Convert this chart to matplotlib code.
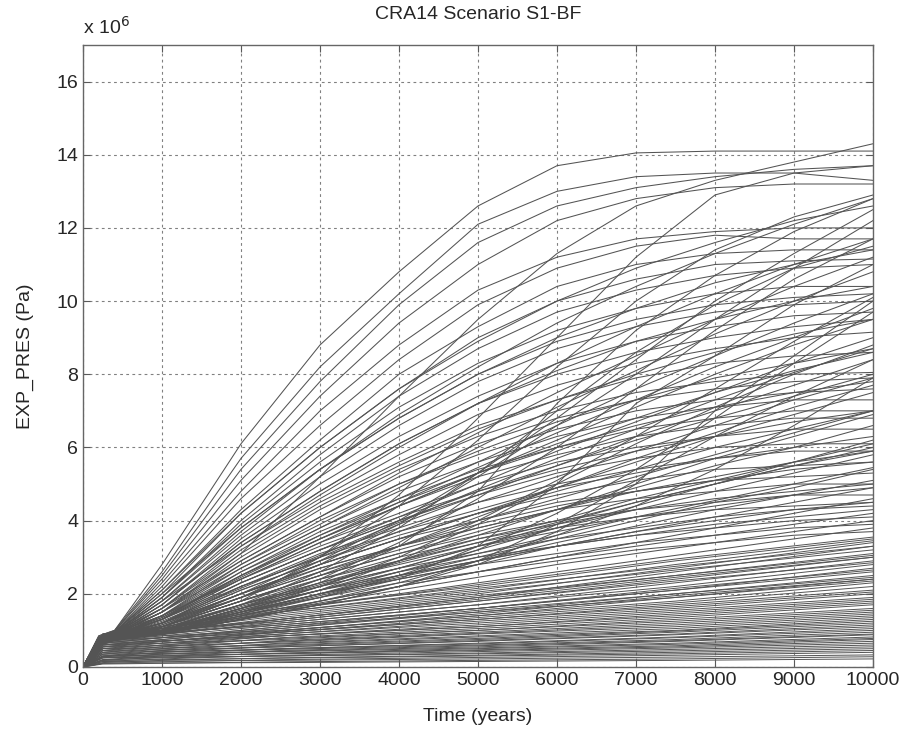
import matplotlib
matplotlib.use("Agg")
import matplotlib.pyplot as plt
import numpy as np

plt.rcParams['font.family'] = ['Liberation Sans', 'DejaVu Sans']

# pressure values in units of 1e6 Pa
t_fan = [0, 200, 400, 1000, 2000, 3000, 4000, 5000, 6000, 7000, 8000, 9000, 10000]

fan_early = [
    [0, .85, 1.0, 2.8, 6.1, 8.8, 10.8, 12.6, 13.7, 14.05, 14.1, 14.1, 14.1],
    [0, .85, 1.0, 2.6, 5.7, 8.2, 10.2, 12.1, 13.0, 13.4, 13.5, 13.5, 13.3],
    [0, .8, .98, 2.5, 5.4, 7.8, 9.9, 11.6, 12.6, 13.1, 13.4, 13.6, 13.7],
    [0, .8, .98, 2.4, 5.1, 7.4, 9.4, 11.0, 12.2, 12.8, 13.1, 13.2, 13.2],
    [0, .8, .95, 2.3, 4.8, 7.0, 8.8, 10.3, 11.2, 11.7, 11.9, 12.0, 12.0],
    [0, .8, .95, 2.2, 4.6, 6.6, 8.4, 9.9, 10.9, 11.5, 11.8, 11.7, 11.7],
    [0, .78, .95, 2.1, 4.3, 6.2, 8.0, 9.3, 10.4, 11.0, 11.3, 11.4, 11.4],
    [0, .78, .93, 2.0, 4.2, 6.0, 7.6, 9.0, 10.0, 10.6, 11.0, 11.1, 11.15],
    [0, .76, .93, 1.9, 4.0, 5.8, 7.4, 8.7, 9.7, 10.3, 10.7, 10.9, 11.0],
    [0, .76, .92, 1.9, 3.9, 5.6, 7.1, 8.3, 9.2, 9.8, 10.2, 10.4, 10.4],
    [0, .75, .92, 1.8, 3.7, 5.4, 6.8, 8.0, 8.9, 9.5, 9.9, 10.1, 10.2],
    [0, .75, .9, 1.8, 3.6, 5.2, 6.6, 7.8, 8.7, 9.3, 9.7, 9.9, 10.0],
    [0, .74, .9, 1.7, 3.5, 5.0, 6.3, 7.4, 8.3, 8.9, 9.3, 9.6, 9.7],
    [0, .74, .9, 1.7, 3.4, 4.8, 6.1, 7.2, 8.0, 8.6, 9.0, 9.3, 9.5],
    [0, .72, .88, 1.6, 3.3, 4.6, 5.8, 6.9, 7.7, 8.3, 8.7, 9.0, 9.15],
    [0, .72, .88, 1.6, 3.2, 4.5, 5.6, 6.6, 7.3, 7.9, 8.3, 8.5, 8.6],
    [0, .7, .86, 1.5, 3.0, 4.3, 5.4, 6.3, 7.0, 7.5, 7.8, 8.0, 8.05],
    [0, .7, .86, 1.5, 2.9, 4.1, 5.2, 6.1, 6.8, 7.3, 7.6, 7.8, 7.9],
    [0, .7, .85, 1.4, 2.8, 3.9, 5.0, 5.8, 6.5, 7.0, 7.3, 7.5, 7.6],
    [0, .68, .85, 1.4, 2.7, 3.8, 4.8, 5.6, 6.3, 6.8, 7.1, 7.3, 7.3],
    [0, .68, .84, 1.3, 2.6, 3.7, 4.6, 5.4, 6.0, 6.5, 6.8, 7.0, 7.0],
    [0, .66, .84, 1.3, 2.5, 3.5, 4.4, 5.2, 5.8, 6.3, 6.6, 6.8, 6.8],
    [0, .66, .82, 1.3, 2.4, 3.4, 4.2, 5.0, 5.6, 6.0, 6.3, 6.5, 6.5],
    [0, .65, .82, 1.2, 2.3, 3.2, 4.0, 4.7, 5.3, 5.7, 6.0, 6.1, 6.1],
    [0, .65, .8, 1.2, 2.2, 3.1, 3.8, 4.5, 5.0, 5.4, 5.7, 5.9, 5.9],
    [0, .64, .8, 1.2, 2.1, 2.9, 3.6, 4.2, 4.7, 5.1, 5.4, 5.5, 5.6],
    [0, .64, .78, 1.1, 2.0, 2.8, 3.5, 4.0, 4.5, 4.8, 5.1, 5.2, 5.3],
    [0, .62, .78, 1.1, 1.9, 2.7, 3.3, 3.8, 4.3, 4.6, 4.8, 5.0, 5.0],
    [0, .62, .76, 1.1, 1.8, 2.5, 3.1, 3.6, 4.0, 4.3, 4.5, 4.7, 4.7],
    [0, .6, .76, 1.0, 1.7, 2.4, 2.9, 3.4, 3.8, 4.1, 4.3, 4.4, 4.5],
]

fan_mid = [
    [0, .8, .96, 2.1, 4.2, 6.0, 7.6, 8.9, 10.0, 10.9, 11.6, 12.2, 12.6],
    [0, .78, .94, 1.9, 3.8, 5.4, 6.8, 8.0, 9.0, 9.8, 10.5, 11.0, 11.4],
    [0, .76, .92, 1.7, 3.4, 4.8, 6.1, 7.2, 8.1, 8.9, 9.5, 10.0, 10.4],
    [0, .74, .9, 1.6, 3.1, 4.4, 5.5, 6.5, 7.3, 8.0, 8.6, 9.1, 9.5],
    [0, .72, .88, 1.5, 2.8, 4.0, 5.0, 5.9, 6.7, 7.3, 7.9, 8.3, 8.7],
    [0, .7, .86, 1.4, 2.6, 3.6, 4.5, 5.3, 6.0, 6.6, 7.1, 7.5, 7.8],
    [0, .68, .84, 1.3, 2.4, 3.3, 4.1, 4.8, 5.4, 5.9, 6.3, 6.7, 7.0],
    [0, .66, .82, 1.2, 2.2, 3.0, 3.7, 4.3, 4.9, 5.3, 5.7, 6.0, 6.3],
    [0, .64, .8, 1.15, 2.0, 2.7, 3.3, 3.9, 4.4, 4.8, 5.1, 5.4, 5.6],
    [0, .62, .78, 1.1, 1.8, 2.4, 3.0, 3.5, 3.9, 4.3, 4.6, 4.8, 5.0],
    [0, .6, .76, 1.05, 1.7, 2.2, 2.7, 3.1, 3.5, 3.8, 4.1, 4.3, 4.5],
    [0, .6, .74, 1.0, 1.6, 2.1, 2.5, 2.9, 3.3, 3.6, 3.9, 4.1, 4.3],
]

fan_linear = [
    [0, .82, .97, 2.0, 3.8, 5.4, 6.9, 8.2, 9.4, 10.4, 11.3, 12.1, 12.8],
    [0, .8, .96, 1.8, 3.3, 4.7, 6.0, 7.2, 8.3, 9.3, 10.2, 11.0, 11.7],
    [0, .8, .95, 1.6, 2.9, 4.1, 5.3, 6.4, 7.5, 8.5, 9.5, 10.4, 11.2],
    [0, .78, .94, 1.5, 2.7, 3.8, 4.9, 6.0, 7.1, 8.1, 9.1, 10.0, 10.8],
    [0, .78, .93, 1.4, 2.5, 3.6, 4.6, 5.6, 6.6, 7.6, 8.5, 9.4, 10.2],
    [0, .76, .92, 1.4, 2.4, 3.4, 4.4, 5.3, 6.2, 7.1, 8.0, 8.8, 9.5],
    [0, .76, .9, 1.3, 2.3, 3.2, 4.1, 5.0, 5.9, 6.7, 7.5, 8.3, 9.0],
    [0, .74, .9, 1.3, 2.2, 3.0, 3.9, 4.7, 5.5, 6.3, 7.0, 7.7, 8.4],
    [0, .74, .88, 1.2, 2.1, 2.9, 3.7, 4.5, 5.2, 5.9, 6.6, 7.3, 7.9],
    [0, .72, .87, 1.2, 2.0, 2.8, 3.5, 4.2, 4.9, 5.6, 6.3, 6.9, 7.5],
    [0, .72, .86, 1.1, 1.9, 2.6, 3.3, 4.0, 4.6, 5.2, 5.8, 6.4, 7.0],
    [0, .7, .85, 1.1, 1.8, 2.5, 3.1, 3.7, 4.3, 4.9, 5.5, 6.0, 6.6],
    [0, .7, .84, 1.1, 1.7, 2.3, 2.9, 3.5, 4.0, 4.6, 5.1, 5.6, 6.1],
    [0, .68, .83, 1.0, 1.6, 2.2, 2.7, 3.3, 3.8, 4.3, 4.8, 5.3, 5.8],
    [0, .68, .82, 1.0, 1.5, 2.0, 2.5, 3.0, 3.5, 4.0, 4.5, 4.9, 5.4],
    [0, .66, .8, 1.0, 1.5, 1.9, 2.4, 2.8, 3.3, 3.7, 4.1, 4.5, 4.9],
    [0, .66, .78, .9, 1.4, 1.8, 2.2, 2.6, 3.0, 3.4, 3.8, 4.2, 4.6],
    [0, .65, .78, .95, 1.45, 1.95, 2.45, 2.9, 3.4, 3.85, 4.3, 4.7, 5.1],
    [0, .7, .85, 1.25, 2.15, 3.05, 3.95, 4.85, 5.7, 6.5, 7.3, 8.05, 8.7],
    [0, .72, .88, 1.35, 2.45, 3.5, 4.5, 5.45, 6.4, 7.3, 8.2, 9.0, 9.8],
    [0, .66, .8, 1.05, 1.65, 2.25, 2.85, 3.4, 3.95, 4.5, 5.0, 5.5, 6.0],
    [0, .64, .78, 1.0, 1.55, 2.1, 2.6, 3.1, 3.6, 4.1, 4.55, 5.0, 5.45],
]

fan_low = [
    [0, .62, .76, 1.0, 1.6, 2.1, 2.6, 3.0, 3.3, 3.6, 3.8, 4.0, 4.1],
    [0, .6, .75, .98, 1.5, 2.0, 2.4, 2.8, 3.1, 3.4, 3.6, 3.8, 3.9],
    [0, .6, .74, .95, 1.45, 1.9, 2.3, 2.6, 2.9, 3.2, 3.4, 3.6, 3.7],
    [0, .62, .76, .95, 1.4, 1.8, 2.2, 2.6, 3.0, 3.3, 3.6, 3.9, 4.2],
    [0, .64, .78, 1.0, 1.5, 2.0, 2.5, 2.9, 3.3, 3.7, 4.0, 4.3, 4.4],
    [0, .6, .74, .92, 1.35, 1.75, 2.1, 2.45, 2.8, 3.1, 3.4, 3.7, 4.0],
    [0, .58, .72, .9, 1.3, 1.7, 2.0, 2.3, 2.6, 2.9, 3.2, 3.5, 3.8],
    [0, .66, .8, 1.05, 1.7, 2.3, 2.8, 3.3, 3.7, 4.1, 4.4, 4.7, 4.9],
    [0, .68, .82, 1.15, 1.9, 2.6, 3.2, 3.8, 4.3, 4.8, 5.2, 5.6, 5.9],
    [0, .7, .84, 1.2, 2.0, 2.8, 3.5, 4.2, 4.8, 5.4, 6.0, 6.5, 7.0],
    [0, .72, .86, 1.3, 2.3, 3.2, 4.0, 4.8, 5.5, 6.2, 6.8, 7.4, 8.0],
    [0, .74, .88, 1.35, 2.5, 3.5, 4.4, 5.3, 6.1, 6.8, 7.5, 8.1, 8.6],
    [0, .66, .8, 1.0, 1.6, 2.2, 2.9, 3.6, 4.3, 5.0, 5.7, 6.3, 6.9],
    [0, .64, .78, .95, 1.45, 2.0, 2.6, 3.2, 3.8, 4.4, 5.0, 5.6, 6.2],
    [0, .66, .8, 1.0, 1.55, 2.1, 2.7, 3.3, 3.9, 4.5, 5.0, 5.5, 5.9],
    [0, .7, .84, 1.1, 1.8, 2.5, 3.3, 4.1, 4.9, 5.7, 6.4, 7.1, 7.7],
]

fan_late = [
    [0, .75, .9, 1.5, 3.1, 5.2, 7.4, 9.5, 11.3, 12.6, 13.3, 13.8, 14.3],
    [0, .7, .85, 1.1, 1.8, 3.0, 4.7, 6.8, 9.0, 11.2, 12.9, 13.5, 13.7],
    [0, .68, .82, 1.0, 1.6, 2.3, 3.3, 4.8, 7.2, 9.2, 10.7, 11.9, 12.8],
    [0, .68, .82, 1.0, 1.5, 2.0, 2.4, 3.3, 5.0, 7.2, 8.5, 9.9, 11.0],
    [0, .65, .8, .9, 1.3, 1.7, 2.2, 2.8, 3.7, 5.0, 7.0, 8.5, 10.0],
    [0, .7, .85, 1.2, 1.9, 2.8, 3.9, 5.2, 6.6, 8.0, 9.5, 10.9, 12.2],
    [0, .7, .85, 1.2, 2.0, 3.0, 4.4, 6.2, 8.2, 10.0, 11.4, 12.3, 12.9],
    [0, .68, .82, 1.0, 1.6, 2.4, 3.4, 4.6, 6.0, 7.6, 9.2, 10.6, 11.7],
    [0, .7, .84, 1.1, 1.9, 2.9, 4.0, 5.3, 6.8, 8.4, 10.0, 11.3, 12.5],
    [0, .65, .8, .9, 1.4, 1.9, 2.5, 3.2, 4.2, 5.4, 6.8, 8.3, 9.7],
    [0, .68, .82, 1.0, 1.7, 2.6, 3.8, 5.3, 7.0, 8.6, 9.9, 10.9, 11.5],
    [0, .66, .8, .9, 1.5, 2.2, 3.0, 4.0, 5.1, 6.3, 7.6, 8.9, 10.1],
    [0, .64, .78, .9, 1.3, 1.8, 2.3, 2.9, 3.6, 4.4, 5.4, 6.6, 7.9],
    [0, .64, .78, .9, 1.3, 1.7, 2.2, 2.9, 3.9, 5.1, 6.3, 7.4, 8.4],
    [0, .66, .8, 1.0, 1.5, 2.1, 2.9, 3.9, 5.0, 6.1, 7.1, 8.0, 8.8],
]

# slow vectors in the dense band near the bottom
t_low = [0, 250, 1000, 2500, 5000, 7500, 10000]
low_band = [
    [0, .9, 1.1, 1.6, 2.2, 2.9, 3.5],
    [0, .85, 1.05, 1.55, 2.25, 2.95, 3.55],
    [0, .88, 1.05, 1.5, 2.1, 2.8, 3.45],
    [0, .9, 1.0, 1.4, 2.0, 2.7, 3.4],
    [0, .85, 1.0, 1.3, 1.9, 2.6, 3.3],
    [0, .8, 1.0, 1.5, 2.15, 2.75, 3.3],
    [0, .82, 1.0, 1.45, 2.05, 2.65, 3.2],
    [0, .8, .95, 1.3, 1.9, 2.5, 3.1],
    [0, .78, .95, 1.35, 1.95, 2.5, 3.05],
    [0, .9, 1.0, 1.25, 1.8, 2.4, 3.0],
    [0, .75, .9, 1.3, 1.85, 2.45, 3.0],
    [0, .75, .9, 1.2, 1.7, 2.3, 2.9],
    [0, .7, .88, 1.25, 1.8, 2.35, 2.85],
    [0, .8, .9, 1.2, 1.7, 2.2, 2.8],
    [0, .7, .85, 1.15, 1.6, 2.1, 2.7],
    [0, .65, .8, 1.1, 1.6, 2.15, 2.65],
    [0, .85, .95, 1.15, 1.6, 2.1, 2.6],
    [0, .65, .8, 1.1, 1.5, 2.0, 2.5],
    [0, .6, .75, 1.05, 1.55, 2.0, 2.45],
    [0, .7, .8, 1.05, 1.5, 1.9, 2.4],
    [0, .55, .7, .98, 1.45, 1.95, 2.4],
    [0, .6, .75, 1.0, 1.4, 1.9, 2.35],
    [0, .8, .85, 1.0, 1.4, 1.8, 2.3],
    [0, .55, .7, .95, 1.35, 1.75, 2.2],
    [0, .6, .7, .95, 1.3, 1.7, 2.1],
    [0, .75, .8, .95, 1.3, 1.65, 2.05],
    [0, .5, .65, .9, 1.25, 1.6, 2.0],
    [0, .65, .7, .9, 1.2, 1.55, 1.9],
    [0, .45, .6, .85, 1.15, 1.5, 1.85],
    [0, .55, .65, .85, 1.1, 1.45, 1.8],
    [0, .7, .72, .85, 1.1, 1.4, 1.75],
    [0, .4, .55, .8, 1.05, 1.35, 1.7],
    [0, .5, .6, .78, 1.0, 1.3, 1.6],
    [0, .6, .65, .75, 1.0, 1.25, 1.55],
    [0, .35, .5, .72, .95, 1.2, 1.5],
    [0, .45, .55, .7, .92, 1.15, 1.45],
    [0, .55, .58, .68, .9, 1.1, 1.4],
    [0, .3, .45, .65, .85, 1.05, 1.35],
    [0, .4, .5, .63, .82, 1.0, 1.3],
    [0, .5, .52, .6, .78, .98, 1.25],
    [0, .28, .4, .58, .75, .95, 1.2],
    [0, .35, .45, .55, .72, .9, 1.15],
    [0, .45, .47, .55, .7, .88, 1.1],
    [0, .25, .35, .5, .65, .82, 1.05],
    [0, .3, .4, .5, .63, .8, 1.0],
    [0, .4, .42, .48, .6, .75, .95],
    [0, .2, .3, .45, .58, .72, .9],
    [0, .28, .35, .43, .55, .7, .88],
    [0, .35, .37, .42, .52, .65, .82],
    [0, .18, .27, .38, .5, .62, .78],
    [0, .25, .3, .37, .47, .58, .75],
    [0, .3, .32, .36, .45, .55, .7],
    [0, .15, .22, .32, .42, .52, .65],
    [0, .2, .25, .3, .38, .48, .6],
    [0, .25, .27, .3, .36, .44, .55],
    [0, .12, .18, .25, .32, .4, .5],
    [0, .18, .2, .24, .3, .36, .45],
    [0, .1, .14, .2, .26, .32, .4],
    [0, .15, .16, .18, .22, .27, .33],
    [0, .08, .1, .14, .18, .22, .28],
    [0, .1, .11, .12, .15, .18, .22],
]

line_col = '0.33'
text_col = '0.15'

fig = plt.figure(figsize=(9.09, 7.36), dpi=100)
ax = fig.add_axes([0.0913, 0.0938, 0.8691, 0.8451])

for row in low_band:
    ax.plot(t_low, row, color=line_col, lw=0.7)
for group in (fan_early, fan_mid, fan_linear, fan_low, fan_late):
    for row in group:
        ax.plot(t_fan, row, color=line_col, lw=0.75)

ax.set_xlim(0, 10000)
ax.set_ylim(0, 17)
ax.set_xticks(np.arange(0, 10001, 1000))
ax.set_yticks(np.arange(0, 17, 2))
ax.grid(True, color='0.5', linestyle=(0, (2.5, 3)), linewidth=0.8)
ax.set_axisbelow(True)
ax.tick_params(direction='in', length=5, labelsize=14, colors='0.35',
               labelcolor=text_col, top=True, right=True)
for sp in ax.spines.values():
    sp.set_color('0.4')
    sp.set_linewidth(1.0)

ax.set_xlabel('Time (years)', fontsize=14, color=text_col, labelpad=14)
ax.set_ylabel('EXP_PRES (Pa)', fontsize=14, color=text_col, labelpad=16)
ax.set_title('CRA14 Scenario S1-BF', fontsize=14, color=text_col, pad=19)
ax.text(0.0, 1.012, r'x 10$^{6}$', transform=ax.transAxes, fontsize=14,
        color=text_col, ha='left', va='bottom')

fig.savefig('out.png', dpi=100)
